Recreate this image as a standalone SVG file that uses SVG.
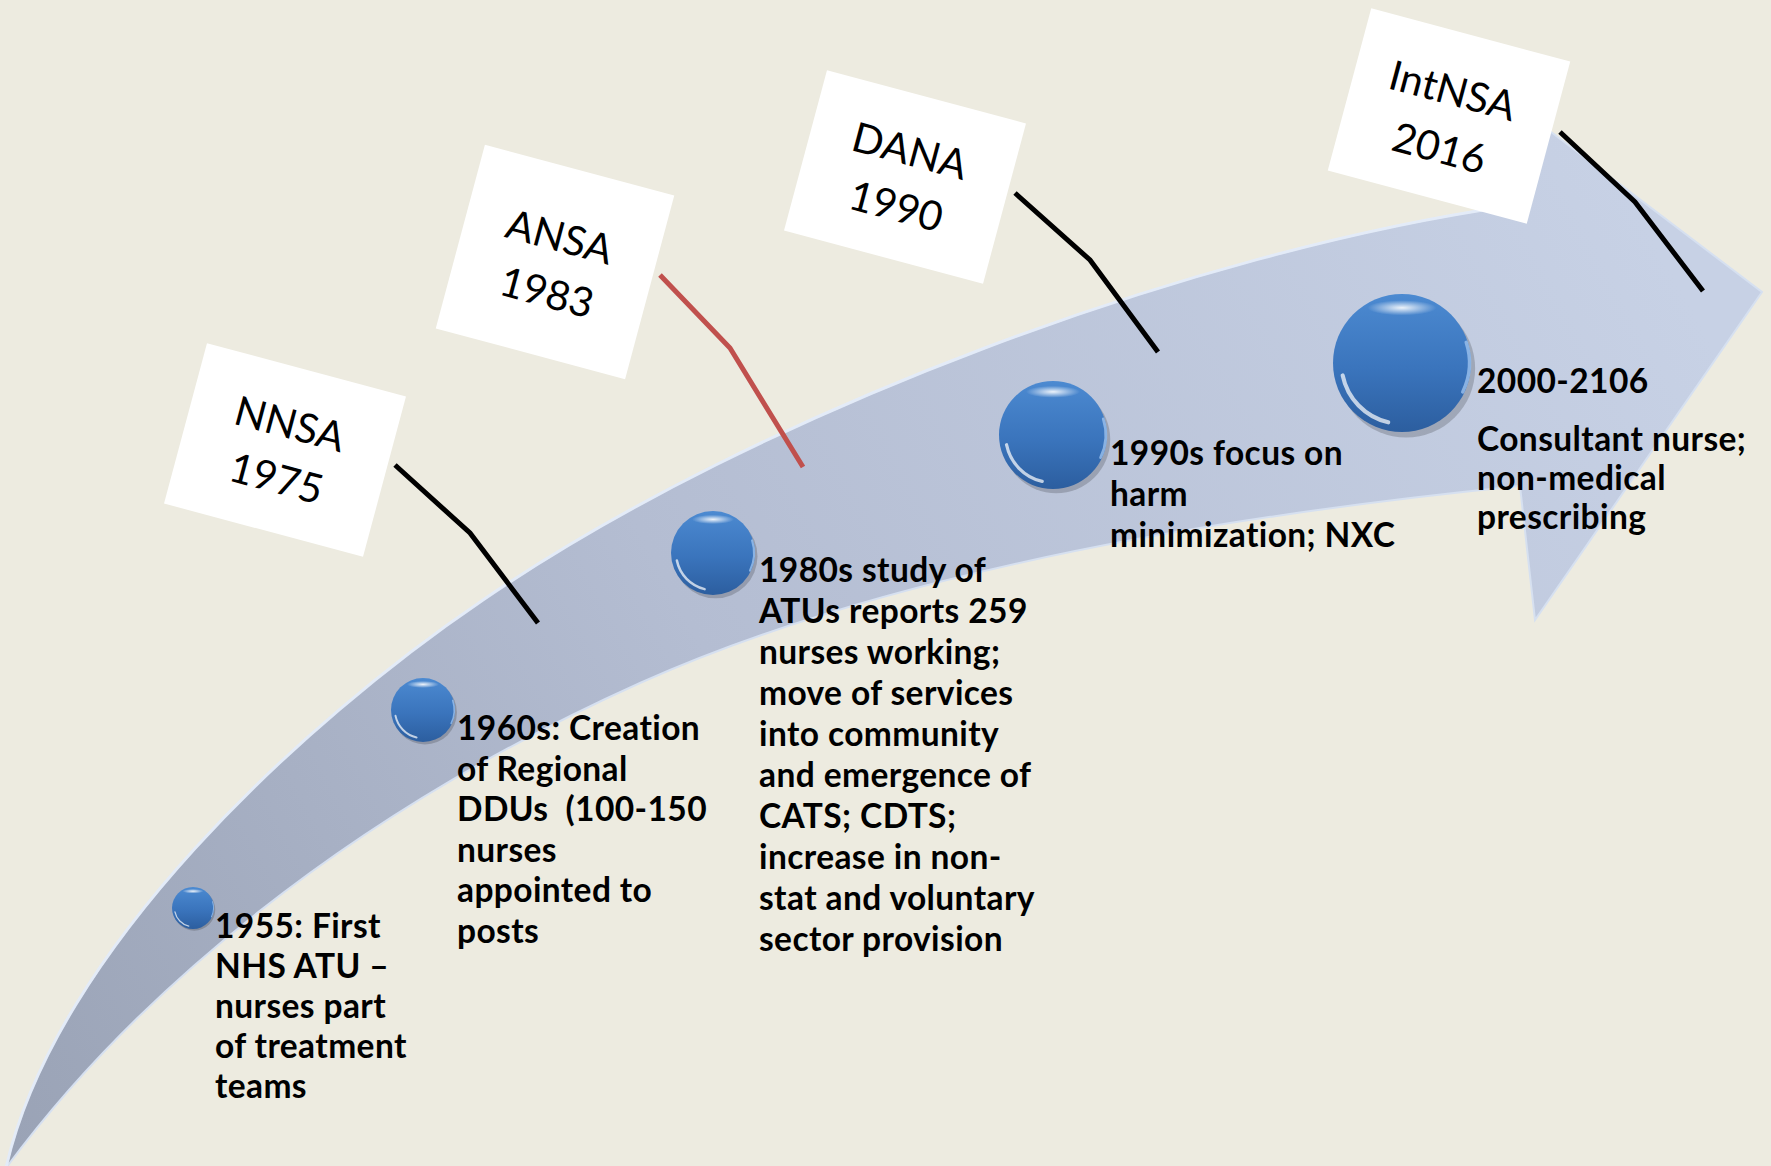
<svg xmlns="http://www.w3.org/2000/svg" xmlns:xlink="http://www.w3.org/1999/xlink" width="1771" height="1166" viewBox="0 0 1771 1166">
<style>
.lbl{font-family:Lato,"Open Sans","Liberation Sans",sans-serif;font-weight:700;font-size:33.5px;letter-spacing:0.4px;fill:#000}
.boxt{font-family:Lato,"Open Sans","Liberation Sans",sans-serif;font-weight:400;font-size:41px;fill:#000;text-anchor:middle}
.card{fill:#fff}
.conn{fill:none;stroke:#000;stroke-width:5;stroke-linejoin:miter}
.red{stroke:#C0504D}
</style>
<defs>
<linearGradient id="arrowFill" gradientUnits="userSpaceOnUse" x1="0" y1="1120" x2="1650" y2="230">
<stop offset="0" stop-color="#9AA3B6"/>
<stop offset="0.45" stop-color="#B4BDD2"/>
<stop offset="1" stop-color="#C7D1E5"/>
</linearGradient>
<linearGradient id="orbFill" x1="0" y1="0" x2="0" y2="1">
<stop offset="0" stop-color="#4C8AD1"/>
<stop offset="0.55" stop-color="#3A74BC"/>
<stop offset="1" stop-color="#2C5E9F"/>
</linearGradient>
<radialGradient id="hl" cx="0.5" cy="0.5" r="0.5">
<stop offset="0" stop-color="#fff" stop-opacity="0.9"/>
<stop offset="1" stop-color="#fff" stop-opacity="0"/>
</radialGradient>
<g id="orb">
<circle cx="0.06" cy="0.08" r="1" fill="#000" opacity="0.18"/>
<circle cx="0" cy="0" r="1" fill="url(#orbFill)"/>
<ellipse cx="0" cy="-0.8" rx="0.5" ry="0.11" fill="url(#hl)"/>
<path d="M -0.2 0.86 A 0.88 0.88 0 0 1 -0.86 0.18" fill="none" stroke="#fff" stroke-opacity="0.7" stroke-width="0.06" stroke-linecap="round"/>
<path d="M 0.93 -0.3 A 0.97 0.97 0 0 1 0.88 0.42" fill="none" stroke="#9CC2EE" stroke-opacity="0.8" stroke-width="0.05" stroke-linecap="round"/>
</g>
</defs>
<rect width="1771" height="1166" fill="#EDEBE0"/>
<g id="timeline-arrow">
<path d="M 6 1168 C 55 950 303 722 483 600 C 760 410 1200 250 1510 206 L 1530 116 L 1762 292 L 1535 620 L 1520 486 C 1220 516 890 571 640 683 C 340 818 130 1000 6 1168 Z" fill="url(#arrowFill)" stroke="#D6E0F0" stroke-width="2"/>
<path d="M 6 1168 C 55 950 303 722 483 600 C 760 410 1200 250 1510 206" fill="none" stroke="#E4ECF8" stroke-width="3" stroke-opacity="0.9"/>
</g>
<g id="connectors">
<polyline class="conn" points="395,465 470,533 538,623"/>
<polyline class="conn red" points="660,275 730,348 803,467"/>
<polyline class="conn" points="1015,193 1090,260 1158,352"/>
<polyline class="conn" points="1560,132 1635,202 1703,291"/>
</g>
<g id="box-nnsa" transform="translate(285,450) rotate(15)">
<rect class="card" x="-103" y="-83" width="206" height="166"/>
<text class="boxt" x="-2" y="-12">NNSA</text>
<text class="boxt" x="-1" y="44">1975</text>
</g>
<g id="box-ansa" transform="translate(555,262) rotate(15)">
<rect class="card" x="-98" y="-95" width="196" height="190"/>
<text class="boxt" x="-2" y="-11">ANSA</text>
<text class="boxt" x="0" y="46">1983</text>
</g>
<g id="box-dana" transform="translate(905,177) rotate(15)">
<rect class="card" x="-103" y="-83" width="206" height="166"/>
<text class="boxt" x="-2" y="-12">DANA</text>
<text class="boxt" x="-1" y="45">1990</text>
</g>
<g id="box-intnsa" transform="translate(1449,116) rotate(15)">
<rect class="card" x="-103" y="-84" width="206" height="168"/>
<text class="boxt" x="-3" y="-11">IntNSA</text>
<text class="boxt" x="-1" y="48">2016</text>
</g>
<g id="event-1955">
<use xlink:href="#orb" href="#orb" transform="translate(193,908) scale(21)"/>
<text class="lbl"><tspan x="215" y="938">1955: First</tspan><tspan x="215" y="978">NHS ATU –</tspan><tspan x="215" y="1018">nurses part</tspan><tspan x="215" y="1058">of treatment</tspan><tspan x="215" y="1098">teams</tspan></text>
</g>
<g id="event-1960s">
<use xlink:href="#orb" href="#orb" transform="translate(423,710) scale(32)"/>
<text class="lbl" xml:space="preserve"><tspan x="457" y="740">1960s: Creation</tspan><tspan x="457" y="781">of Regional</tspan><tspan x="457" y="821">DDUs  (100-150</tspan><tspan x="457" y="862">nurses</tspan><tspan x="457" y="902">appointed to</tspan><tspan x="457" y="943">posts</tspan></text>
</g>
<g id="event-1980s">
<use xlink:href="#orb" href="#orb" transform="translate(713,553) scale(42)"/>
<text class="lbl"><tspan x="759" y="582">1980s study of</tspan><tspan x="759" y="623">ATUs reports 259</tspan><tspan x="759" y="664">nurses working;</tspan><tspan x="759" y="705">move of services</tspan><tspan x="759" y="746">into community</tspan><tspan x="759" y="787">and emergence of</tspan><tspan x="759" y="828">CATS; CDTS;</tspan><tspan x="759" y="869">increase in non-</tspan><tspan x="759" y="910">stat and voluntary</tspan><tspan x="759" y="951">sector provision</tspan></text>
</g>
<g id="event-1990s">
<use xlink:href="#orb" href="#orb" transform="translate(1053,435) scale(54)"/>
<text class="lbl"><tspan x="1110" y="465">1990s focus on</tspan><tspan x="1110" y="506">harm</tspan><tspan x="1110" y="547">minimization; NXC</tspan></text>
</g>
<g id="event-2000">
<use xlink:href="#orb" href="#orb" transform="translate(1402,363) scale(69)"/>
<text class="lbl"><tspan x="1477" y="393">2000-2106</tspan><tspan x="1477" y="451">Consultant nurse;</tspan><tspan x="1477" y="490">non-medical</tspan><tspan x="1477" y="529">prescribing</tspan></text>
</g>
</svg>
